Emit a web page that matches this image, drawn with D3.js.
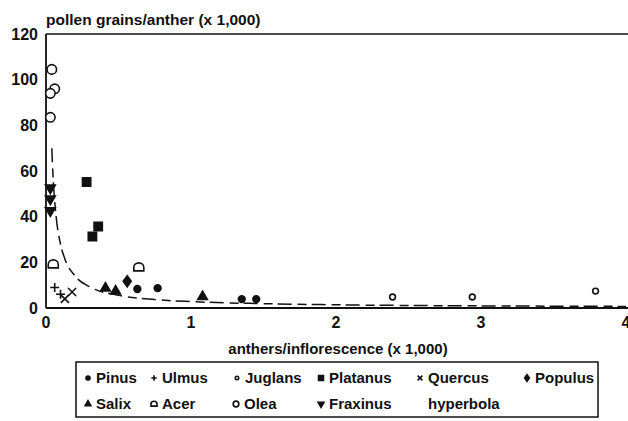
<!DOCTYPE html>
<html lang="en">
<head>
<meta charset="UTF-8">
<title>Pollen grains vs anthers</title>
<script src="https://cdn.jsdelivr.net/npm/d3@7"></script>
<style>
  body { margin: 0; background: #fff; }
  svg text { font-family: "Liberation Sans", Arial, sans-serif; fill: #111; font-weight: bold; }
</style>
</head>
<body>
<svg id="chart" width="628" height="421"></svg>
<script>
// values (x and y both in thousands)
const pinusX = [0.63, 0.77, 1.35, 1.45];
const pinusY = [8.3, 8.7, 3.9, 3.9];
const ulmusX = [0.06, 0.1];
const ulmusY = [9.0, 6.0];
const juglansX = [2.39, 2.94, 3.79];
const juglansY = [4.8, 4.8, 7.4];
const platanusX = [0.28, 0.32, 0.36];
const platanusY = [55.2, 31.3, 35.7];
const quercusX = [0.13, 0.18];
const quercusY = [4.0, 7.0];
const populusX = [0.56];
const populusY = [11.7];
const salixX = [0.41, 0.48, 1.08];
const salixY = [8.7, 7.4, 5.0];
const acerX = [0.05, 0.64];
const acerY = [19.1, 17.8];
const oleaX = [0.04, 0.06, 0.03, 0.03];
const oleaY = [104.5, 96, 94, 83.5];
const fraxinusX = [0.03, 0.03, 0.03];
const fraxinusY = [52.6, 47.8, 42.6];
// fitted hyperbola
const hypX = [0.04, 0.05, 0.07, 0.1, 0.13, 0.2, 0.3, 0.5, 0.75, 1, 1.5, 2, 2.5, 3, 3.5, 4];
const hypY = [70, 56, 40, 28, 21.5, 14, 9.3, 5.6, 3.7, 2.8, 1.9, 1.4, 1.1, 0.93, 0.8, 0.7];

const xTicks = [0, 1, 2, 3, 4];
const yTicks = [0, 20, 40, 60, 80, 100, 120];

const legendRow1 = ['Pinus', 'Ulmus', 'Juglans', 'Platanus', 'Quercus', 'Populus'];
const legendRow2 = ['Salix', 'Acer', 'Olea', 'Fraxinus', 'hyperbola'];

const svg = d3.select('#chart');
const x = d3.scaleLinear().domain([0, 4]).range([46, 626]);
const y = d3.scaleLinear().domain([0, 120]).range([308, 34]);

// marker shapes, k = scale factor (legend uses smaller ones)
function shape(name, k) {
    switch (name) {
        case 'Pinus': return { d: d3.symbol(d3.symbolCircle, 36 * k * k)(), fill: true };
        case 'Ulmus': return { d: `M${-4.5 * k},0H${4.5 * k}M0,${-4.5 * k}V${4.5 * k}`, line: true };
        case 'Juglans': return { d: d3.symbol(d3.symbolCircle, 26 * k * k)(), fill: false };
        case 'Platanus': return { d: d3.symbol(d3.symbolSquare, 68 * k * k)(), fill: true };
        case 'Quercus': return { d: `M${-4 * k},${-4 * k}L${4 * k},${4 * k}M${-4 * k},${4 * k}L${4 * k},${-4 * k}`, line: true };
        case 'Populus': return { d: `M0,${-5.5 * k}L${4 * k},0L0,${5.5 * k}L${-4 * k},0Z`, fill: true };
        case 'Salix': return { d: d3.symbol(d3.symbolTriangle, 40 * k * k)(), fill: true };
        case 'Acer': return { d: `M${-5 * k},${3.5 * k}V0A${5 * k},${4.5 * k} 0 0 1 ${5 * k},0V${3.5 * k}Z`, fill: false };
        case 'Olea': return { d: d3.symbol(d3.symbolCircle, 70 * k * k)(), fill: false };
        case 'Fraxinus': return { d: d3.symbol(d3.symbolTriangle, 42 * k * k)(), fill: true, flip: true };
    }
}

function drawMarks(g, name, k) {
    const sh = shape(name, k);
    return g.append('path')
        .attr('d', sh.d)
        .attr('fill', sh.line ? 'none' : (sh.fill ? '#111' : '#fff'))
        .attr('stroke', '#111')
        .attr('stroke-width', 1.6)
        .attr('transform', sh.flip ? 'rotate(180)' : null);
}

// frame: top line, left and bottom axes
svg.append('line').attr('x1', x(0)).attr('x2', 628).attr('y1', y(120)).attr('y2', y(120))
    .attr('stroke', '#111').attr('stroke-width', 1.5);
svg.append('line').attr('x1', x(0)).attr('x2', x(0)).attr('y1', y(120)).attr('y2', y(0))
    .attr('stroke', '#111').attr('stroke-width', 1.8);
svg.append('line').attr('x1', x(0)).attr('x2', 628).attr('y1', y(0)).attr('y2', y(0))
    .attr('stroke', '#111').attr('stroke-width', 1.8);

// tick labels (no tick marks in the original)
svg.selectAll('.ylab').data(yTicks).enter().append('text')
    .attr('x', 38).attr('y', d => y(d)).attr('dy', '0.36em')
    .attr('text-anchor', 'end').attr('font-size', 16)
    .text(d => d);
svg.selectAll('.xlab').data(xTicks).enter().append('text')
    .attr('x', d => x(d)).attr('y', 328)
    .attr('text-anchor', 'middle').attr('font-size', 16)
    .text(d => d);

// axis titles
svg.append('text').attr('x', 46).attr('y', 25).attr('font-size', 15.5)
    .text('pollen grains/anther (x 1,000)');
svg.append('text').attr('x', 338).attr('y', 354).attr('text-anchor', 'middle')
    .attr('font-size', 15)
    .text('anthers/inflorescence (x 1,000)');

// hyperbola
const hypData = hypX.map((v, i) => [v, hypY[i]]);
svg.append('path')
    .datum(hypData)
    .attr('fill', 'none').attr('stroke', '#111').attr('stroke-width', 1.5)
    .attr('stroke-dasharray', '14,6,9,5')
    .attr('d', d3.line().x(d => x(d[0])).y(d => y(d[1])).curve(d3.curveMonotoneX));

// data points
const series = [
    ['Pinus', pinusX, pinusY], ['Ulmus', ulmusX, ulmusY], ['Juglans', juglansX, juglansY],
    ['Platanus', platanusX, platanusY], ['Quercus', quercusX, quercusY], ['Populus', populusX, populusY],
    ['Salix', salixX, salixY], ['Acer', acerX, acerY], ['Olea', oleaX, oleaY],
    ['Fraxinus', fraxinusX, fraxinusY]
];
series.forEach(([name, xs, ys]) => {
    xs.forEach((v, i) => {
        const g = svg.append('g').attr('transform', `translate(${x(v)},${y(ys[i])})`);
        drawMarks(g, name, 1);
    });
});

// legend box
svg.append('rect').attr('x', 76).attr('y', 362).attr('width', 522).attr('height', 55)
    .attr('fill', 'none').attr('stroke', '#111').attr('stroke-width', 1.5);

const col1 = [96, 162, 245, 329, 428, 535];
const col2 = [96, 162, 244, 329, 428];
function legendRow(names, cols, yy) {
    names.forEach((name, i) => {
        const g = svg.append('g').attr('transform', `translate(${cols[i]},${yy})`);
        if (name !== 'hyperbola') {
            const m = svg.append('g').attr('transform', `translate(${cols[i] - 8},${yy})`);
            drawMarks(m, name, 0.6);
        }
        g.append('text').attr('dy', '0.36em').attr('font-size', 15).text(name);
    });
}
legendRow(legendRow1, col1, 378);
legendRow(legendRow2, col2, 404);
</script>
</body>
</html>
